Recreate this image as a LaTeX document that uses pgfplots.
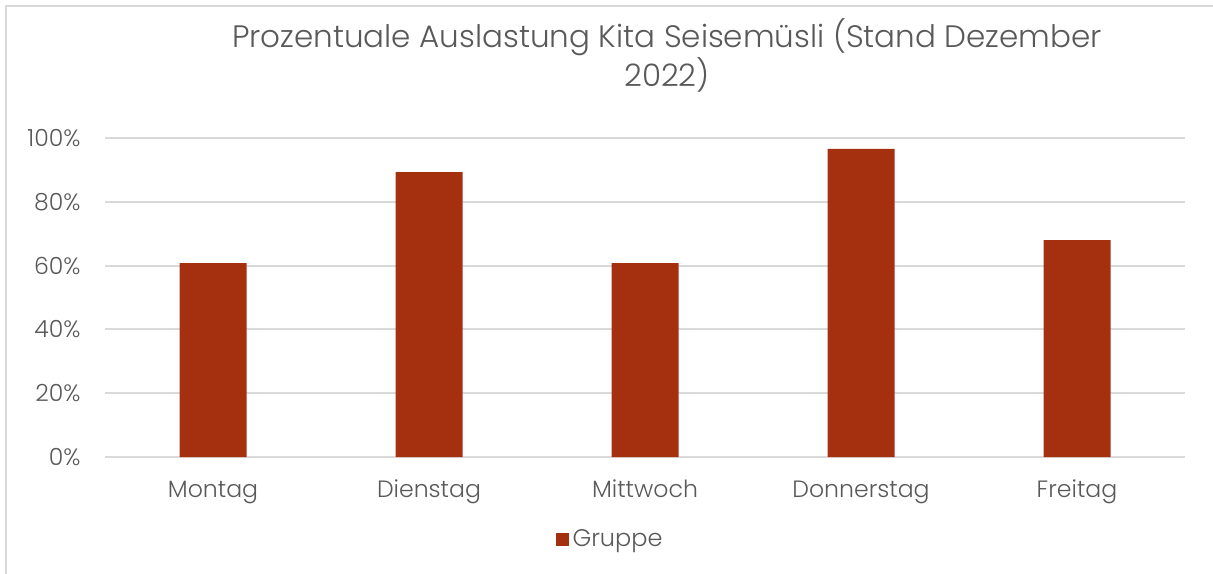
\documentclass[border=0pt]{standalone}
\usepackage{pgfplots}
\pgfplotsset{compat=1.18}
\usepackage{fontspec}
\setmainfont{Poppins}[UprightFont={* Light}]
\definecolor{barcol}{HTML}{A5300F}
\definecolor{txt}{HTML}{595959}
\definecolor{gridcol}{HTML}{D9D9D9}
\begin{document}
\begin{tikzpicture}
\path[use as bounding box] (0,0) rectangle (606.5pt,-286.5pt);
\draw[gridcol,line width=1pt] (3pt,-290pt) -- (3pt,-3pt) -- (610pt,-3pt);
\node[anchor=base,text=txt,font=\fontsize{15.5}{18}\selectfont,inner sep=0pt] at (333.5pt,-23.5pt) {Prozentuale Auslastung Kita Seisemüsli (Stand Dezember};
\node[anchor=base,text=txt,font=\fontsize{15.5}{18}\selectfont,inner sep=0pt] at (333.5pt,-43pt) {2022)};
\begin{axis}[
  at={(52.5pt,-228.5pt)}, anchor=south west,
  scale only axis, width=540pt, height=159.5pt,
  xmin=-0.5, xmax=4.5, ymin=0, ymax=100,
  ybar, bar width=33.5pt,
  xtick=data,
  xticklabels={Montag,Dienstag,Mittwoch,Donnerstag,Freitag},
  ytick={0,20,40,60,80,100},
  yticklabel={\pgfmathprintnumber{\tick}\%},
  /pgf/number format/assume math mode=true,
  axis line style={draw=none},
  major tick length=0pt,
  tick style={draw=none},
  xmajorgrids=false,
  ymajorgrids=true, grid style={draw=gridcol,line width=1pt},
  ticklabel style={text=txt,font=\fontsize{11.8}{13}\selectfont,inner sep=0pt},
  yticklabel style={anchor=east,xshift=-12pt},
  xticklabel style={anchor=base,yshift=-20pt},
  legend style={at={(axis description cs:0.4685,-0.26)},anchor=center,draw=none,
    font=\fontsize{12}{13}\selectfont,text=txt,inner sep=0pt,
    legend cell align=left},
  legend image code/.code={\fill[barcol] (0pt,-3.25pt) rectangle (6.5pt,3.25pt);},
]
\addplot[fill=barcol,draw=none] coordinates {(0,60.8) (1,89.3) (2,60.8) (3,96.6) (4,68.0)};
\addlegendentry{Gruppe}
\end{axis}
\end{tikzpicture}
\end{document}
